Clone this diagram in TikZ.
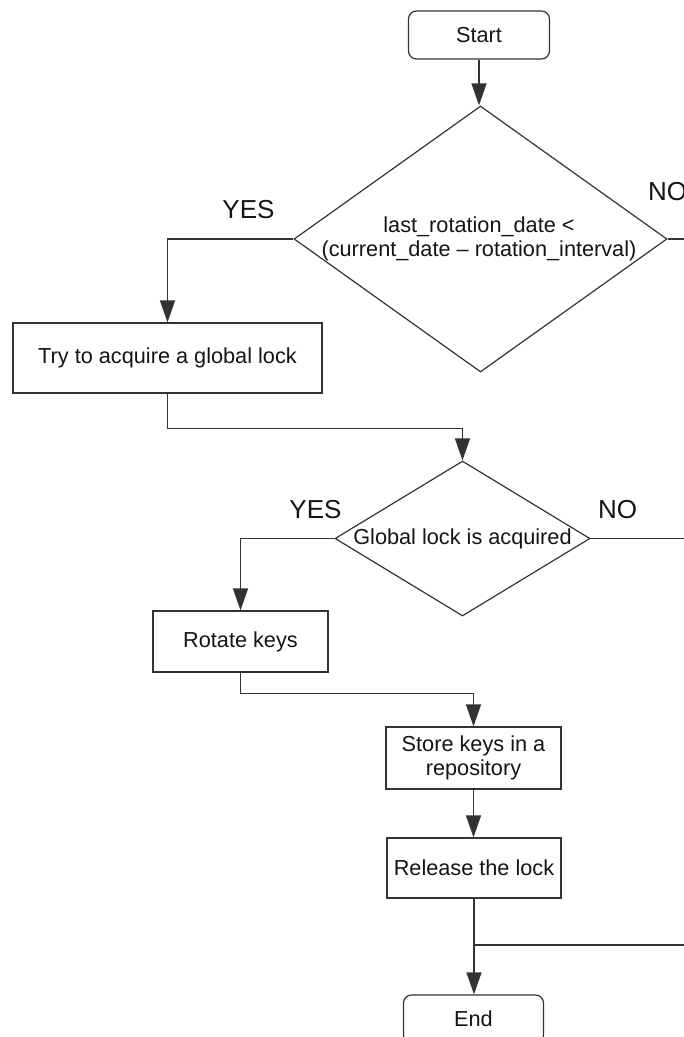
\documentclass[tikz,border=0pt]{standalone}
\usepackage{fontspec}
\setmainfont{Liberation Sans}
\usetikzlibrary{shapes.geometric,arrows.meta}
\definecolor{ln}{HTML}{333333}
\definecolor{tx}{HTML}{141414}
\begin{document}
\begin{tikzpicture}[x=1pt,y=-1pt,
  every node/.style={text=tx},
  body/.style={font=\fontsize{21.7}{24}\selectfont},
  lbl/.style={font=\fontsize{26}{30}\selectfont, inner sep=0pt},
  term/.style={draw=ln, line width=1.2pt, rounded corners=8pt, inner sep=0pt, body},
  procbox/.style={draw=ln, line width=1.2pt, inner sep=0pt, align=center, body},
  decide/.style={diamond, draw=ln, line width=1.2pt, inner sep=0pt},
  conn/.style={draw=ln, line width=1.2pt},
  arr/.style={conn, -{Triangle[length=22pt,width=15pt]}}
]
\useasboundingbox (0,0) rectangle (684,1037);
\clip (0,0) rectangle (684,1037);

\node[term, minimum width=141pt, minimum height=48pt] (start) at (479,35) {Start};
\node[decide, minimum width=373pt, minimum height=266pt] (d1) at (480.5,239) {};
\node[body, align=center, inner sep=0pt] (d1t) at (479,239) {last\_rotation\_date <\\(current\_date – rotation\_interval)};
\node[procbox, minimum width=309pt, minimum height=70pt] (try) at (167.5,358) {Try to acquire a global lock};
\node[decide, minimum width=255pt, minimum height=155pt] (d2) at (462.5,538.5) {};
\node[body, inner sep=0pt] (d2t) at (462.5,538.5) {Global lock is acquired};
\node[procbox, minimum width=175pt, minimum height=61pt] (rot) at (240.5,641.5) {Rotate keys};
\node[procbox, minimum width=175pt, minimum height=62pt] (store) at (473.5,758) {Store keys in a\\repository};
\node[procbox, minimum width=174pt, minimum height=60pt] (rel) at (474,868) {Release the lock};
\node[term, minimum width=140pt, minimum height=48pt] (end) at (473.5,1019) {End};

\node[lbl] (yes1) at (248.5,210) {YES};
\node[lbl] (no1) at (667.5,192) {NO};
\node[lbl] (yes2) at (315.5,510) {YES};
\node[lbl] (no2) at (617.5,510) {NO};

\coordinate (o1) at (700,239);
\coordinate (o2) at (700,538.5);
\coordinate (o3) at (700,945);

\draw[arr] (start.south) -- (start.south |- d1.north);
\draw[arr] (d1.west) -| (try.north);
\draw[arr] (try.south) -- ++(0,35) -| (d2.north);
\draw[arr] (d2.west) -| (rot.north);
\draw[arr] (rot.south) -- ++(0,21) -| (store.north);
\draw[arr] (store.south) -- (store.south |- rel.north);
\draw[arr] (rel.south) -- (rel.south |- end.north);
\draw[conn] (d1.east) -- (o1);
\draw[conn] (d2.east) -- (o2);
\draw[conn] (o3) -- (o3 -| rel.south);
\end{tikzpicture}
\end{document}
